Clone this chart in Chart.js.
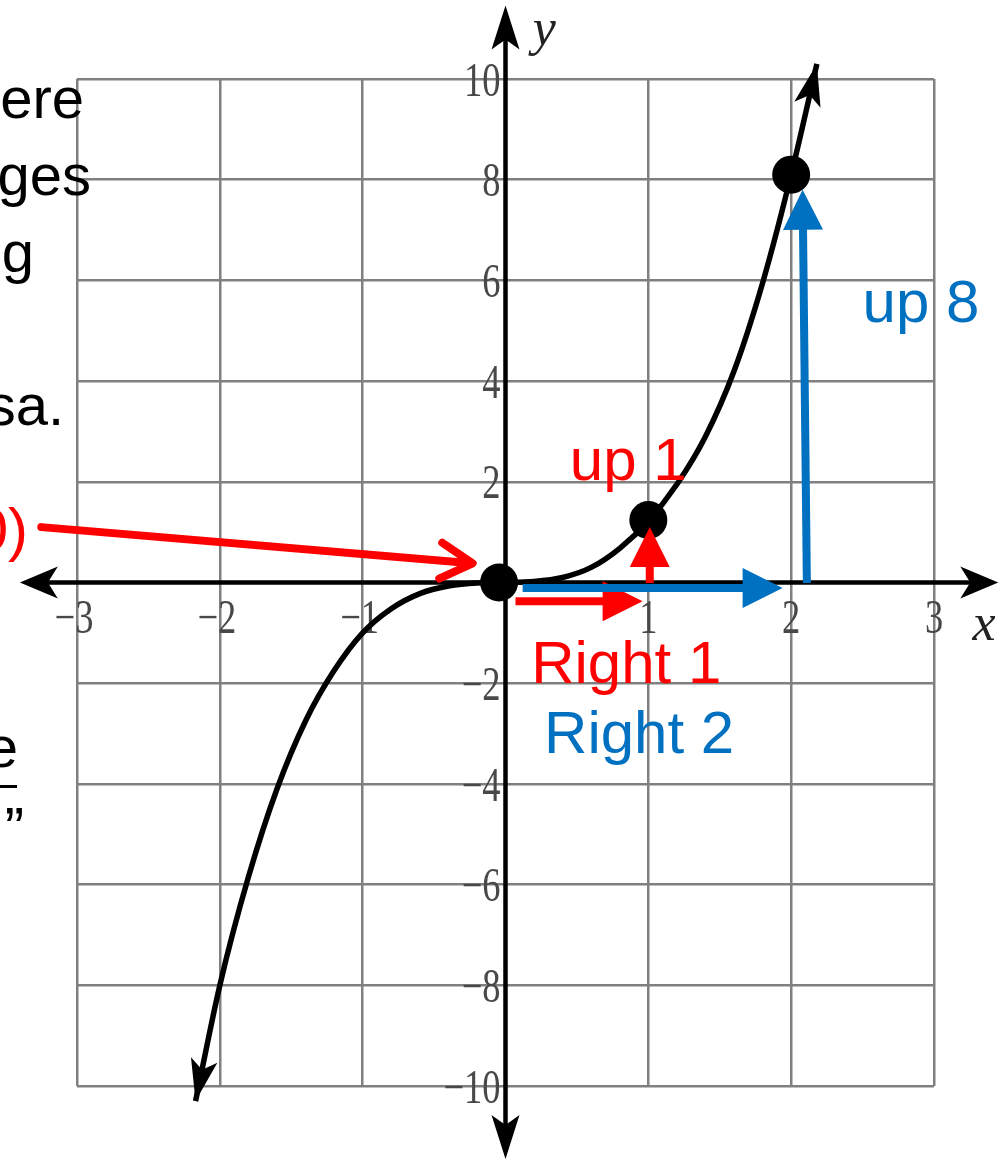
<!DOCTYPE html>
<html>
<head>
<meta charset="utf-8">
<script src="https://cdn.jsdelivr.net/npm/chart.js@4.4.1/dist/chart.umd.min.js"></script>
<style>
  html, body { margin: 0; padding: 0; background: #fff; }
  canvas { display: block; }
</style>
</head>
<body>
<canvas id="chart" width="1005" height="1160"></canvas>
<script>
// tick labels shown next to the axes
const xTicks = [-3, -2, -1, 1, 2, 3];
const yTicks = [10, 8, 6, 4, 2, -2, -4, -6, -8, -10];

// the curve
const curveX = [-2.17, -2.0, -1.8, -1.6, -1.4, -1.2, -1.0, -0.8, -0.6, -0.4, -0.2, 0, 0.2, 0.4, 0.6, 0.8, 1.0, 1.2, 1.4, 1.6, 1.8, 2.0, 2.18];
const curveY = [-10.3, -8.0, -5.85, -4.1, -2.75, -1.75, -1.0, -0.52, -0.22, -0.07, -0.01, 0, 0.02, 0.1, 0.3, 0.68, 1.22, 1.95, 2.9, 4.2, 5.95, 8.1, 10.3];

// the three marked points
const pointX = [-0.045, 1.0, 2.0];
const pointY = [0, 1.24, 8.1];

// how far the black axes run (data units)
const xAxisEnds = [-3.4, 3.45];
const yAxisEnds = [-11.45, 11.46];

// annotation arrows: long pointer, Right 1, Right 2, up 1, up 8
const arrowFromX = [-3.25, 0.07, 0.12, 1.01, 2.11];
const arrowFromY = [1.10, -0.37, -0.11, -0.01, -0.01];
const arrowToX = [-0.23, 0.96, 1.94, 1.01, 2.08];
const arrowToY = [0.38, -0.37, -0.11, 1.10, 7.80];

// annotation labels
const labelText = ['up 1', 'Right 1', 'Right 2', 'up 8'];
const labelX = [0.45, 0.18, 0.27, 2.50];
const labelY = [2.03, -1.99, -3.39, 5.17];

const RED = '#ff0000';
const BLUE = '#0070c0';
const arrowColor = [RED, RED, BLUE, RED, BLUE];

function stealthHead(ctx, x, y, angle, len, width, notch) {
  ctx.save();
  ctx.translate(x, y);
  ctx.rotate(angle);
  ctx.beginPath();
  ctx.moveTo(0, 0);
  ctx.lineTo(-len, -width / 2);
  ctx.lineTo(-len + notch, 0);
  ctx.lineTo(-len, width / 2);
  ctx.closePath();
  ctx.fill();
  ctx.restore();
}

const axesPlugin = {
  id: 'axes',
  beforeDatasetsDraw(chart) {
    const ctx = chart.ctx;
    const xs = chart.scales.x, ys = chart.scales.y;
    const x0 = xs.getPixelForValue(0), y0 = ys.getPixelForValue(0);
    const xl = xs.getPixelForValue(xAxisEnds[0]), xr = xs.getPixelForValue(xAxisEnds[1]);
    const yb = ys.getPixelForValue(yAxisEnds[0]), yt = ys.getPixelForValue(yAxisEnds[1]);

    ctx.save();
    ctx.strokeStyle = '#000';
    ctx.fillStyle = '#000';
    ctx.lineWidth = 4.5;
    ctx.beginPath();
    ctx.moveTo(xl + 20, y0); ctx.lineTo(xr - 20, y0);
    ctx.moveTo(x0, yt + 20); ctx.lineTo(x0, yb - 20);
    ctx.stroke();
    stealthHead(ctx, xr, y0, 0, 38, 32, 10);
    stealthHead(ctx, xl, y0, Math.PI, 38, 32, 10);
    stealthHead(ctx, x0, yt, -Math.PI / 2, 44, 28, 10);
    stealthHead(ctx, x0, yb, Math.PI / 2, 44, 28, 10);

    // tick labels, tall serif digits
    ctx.fillStyle = '#484848';
    ctx.font = '48px "Liberation Serif", serif';
    ctx.textAlign = 'right';
    ctx.textBaseline = 'middle';
    yTicks.forEach(v => {
      const label = (v < 0 ? '\u2212' : '') + Math.abs(v);
      ctx.save();
      ctx.translate(x0 - 5, ys.getPixelForValue(v) + 4);
      ctx.scale(0.76, 1);
      ctx.fillText(label, 0, 0);
      ctx.restore();
    });
    ctx.textAlign = 'center';
    ctx.textBaseline = 'top';
    xTicks.forEach(v => {
      const label = (v < 0 ? '\u2212' : '') + Math.abs(v);
      ctx.save();
      ctx.translate(xs.getPixelForValue(v) - (v < 0 ? 3 : 0), y0 + 14);
      ctx.scale(0.76, 1);
      ctx.fillText(label, 0, 0);
      ctx.restore();
    });

    // axis names
    ctx.fillStyle = '#222';
    ctx.font = 'italic 52px "Liberation Serif", serif';
    ctx.textAlign = 'left';
    ctx.textBaseline = 'alphabetic';
    ctx.fillText('x', xs.getPixelForValue(3.27), ys.getPixelForValue(-1.15));
    ctx.fillText('y', xs.getPixelForValue(0.19), ys.getPixelForValue(10.68));
    ctx.restore();
  },
  afterDatasetsDraw(chart) {
    const ctx = chart.ctx;
    const xs = chart.scales.x, ys = chart.scales.y;
    ctx.save();

    // arrowheads on the curve ends
    ctx.fillStyle = '#000';
    const n = curveX.length;
    const ends = [[n - 1, n - 2], [0, 1]];
    ends.forEach(([a, b]) => {
      const ax = xs.getPixelForValue(curveX[a]), ay = ys.getPixelForValue(curveY[a]);
      const bx = xs.getPixelForValue(curveX[b]), by = ys.getPixelForValue(curveY[b]);
      stealthHead(ctx, ax, ay, Math.atan2(ay - by, ax - bx), 42, 27, 10);
    });

    // annotation arrows
    arrowFromX.forEach((fx, i) => {
      const sx = xs.getPixelForValue(fx), sy = ys.getPixelForValue(arrowFromY[i]);
      const tx = xs.getPixelForValue(arrowToX[i]), ty = ys.getPixelForValue(arrowToY[i]);
      const ang = Math.atan2(ty - sy, tx - sx);
      ctx.strokeStyle = arrowColor[i];
      ctx.fillStyle = arrowColor[i];
      ctx.lineWidth = 8;
      if (i === 0) {
        // long pointer with an open head
        ctx.lineCap = 'round';
        ctx.beginPath();
        ctx.moveTo(sx, sy);
        ctx.lineTo(tx - 4 * Math.cos(ang), ty - 4 * Math.sin(ang));
        ctx.stroke();
        ctx.save();
        ctx.translate(tx, ty);
        ctx.rotate(ang);
        ctx.beginPath();
        ctx.moveTo(-32, -18); ctx.lineTo(0, 0); ctx.lineTo(-32, 18);
        ctx.lineJoin = 'round';
        ctx.stroke();
        ctx.restore();
        ctx.lineCap = 'butt';
      } else {
        const len = 40;
        ctx.beginPath();
        ctx.moveTo(sx, sy);
        ctx.lineTo(tx - (len - 2) * Math.cos(ang), ty - (len - 2) * Math.sin(ang));
        ctx.stroke();
        stealthHead(ctx, tx, ty, ang, len, 40, 0);
      }
    });

    // annotation labels
    ctx.font = '60px "Liberation Sans", Arial, sans-serif';
    ctx.textAlign = 'left';
    ctx.textBaseline = 'alphabetic';
    labelText.forEach((t, i) => {
      ctx.fillStyle = (i === 2 || i === 3) ? BLUE : RED;
      ctx.fillText(t, xs.getPixelForValue(labelX[i]), ys.getPixelForValue(labelY[i]));
    });

    // slide text cut off at the left edge
    ctx.fillStyle = '#000';
    ctx.font = '58px "Liberation Sans", Arial, sans-serif';
    ctx.textAlign = 'right';
    [['ere', 84, 118], ['ges', 91, 195], ['g', 34, 272], ['sa.', 64, 425], ['e', 18, 767], ['\u201d', 24, 848]]
      .forEach(([t, x, y]) => ctx.fillText(t, x, y));
    ctx.fillRect(0, 785, 17, 3);
    ctx.fillStyle = RED;
    ctx.font = '60px "Liberation Sans", Arial, sans-serif';
    ctx.fillText('(0, 0)', 28, 550);
    ctx.restore();
  }
};

new Chart(document.getElementById('chart'), {
  type: 'scatter',
  data: {
    datasets: [
      {
        data: pointX.map((x, i) => ({ x, y: pointY[i] })),
        pointRadius: 19,
        pointBackgroundColor: '#000',
        pointBorderWidth: 0,
        clip: false
      },
      {
        data: curveX.map((x, i) => ({ x, y: curveY[i] })),
        showLine: true,
        borderColor: '#000',
        borderWidth: 5.5,
        pointRadius: 0,
        cubicInterpolationMode: 'monotone',
        clip: false
      }
    ]
  },
  options: {
    responsive: false,
    animation: false,
    devicePixelRatio: 1,
    layout: { padding: { left: 77, right: 71, top: 79, bottom: 74 } },
    plugins: { legend: { display: false }, tooltip: { enabled: false } },
    scales: {
      x: {
        type: 'linear', min: -3, max: 3,
        ticks: { stepSize: 1, display: false },
        grid: { color: '#808080', lineWidth: 2.5, drawTicks: false },
        border: { display: false }
      },
      y: {
        type: 'linear', min: -10, max: 10,
        ticks: { stepSize: 2, display: false },
        grid: { color: '#808080', lineWidth: 2.5, drawTicks: false },
        border: { display: false }
      }
    }
  },
  plugins: [axesPlugin]
});
</script>
</body>
</html>
